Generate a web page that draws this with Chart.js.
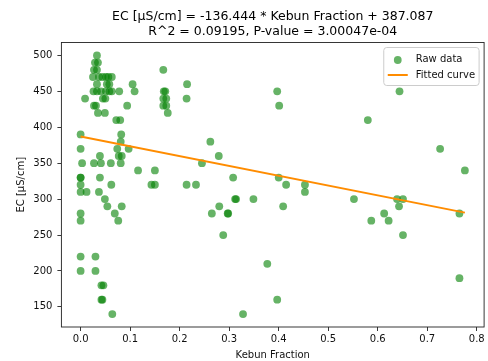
<!DOCTYPE html>
<html>
<head>
<meta charset="utf-8">
<script src="https://cdn.jsdelivr.net/npm/chart.js@4.4.1/dist/chart.umd.min.js"></script>
<style>
  html, body { margin: 0; padding: 0; background: #ffffff; }
  #wrap { width: 488px; height: 361px; }
</style>
</head>
<body>
<div id="wrap"><canvas id="chart" width="488" height="361"></canvas></div>
<script>
// Kebun fraction of each sample and its measured electrical conductivity
const kebunFraction = [
  0.033, 0.029, 0.035, 0.027, 0.033, 0.025, 0.037, 0.044, 0.051, 0.056,
  0.063, 0.033, 0.053, 0.058, 0.105, 0.026, 0.033, 0.041, 0.051, 0.058,
  0.063, 0.078, 0.109, 0.009, 0.045, 0.050, 0.027, 0.031, 0.094, 0.035,
  0.049, 0.072, 0.080, 0.000, 0.082, 0.081, 0.000, 0.074, 0.097, 0.039,
  0.077, 0.083, 0.003, 0.027, 0.041, 0.061, 0.081, 0.116, 0.150, 0.000,
  0.000, 0.039, 0.000, 0.062, 0.143, 0.150, 0.214, 0.233, 0.000, 0.012,
  0.037, 0.049, 0.054, 0.083, 0.000, 0.069, 0.000, 0.076, 0.000, 0.030,
  0.000, 0.030, 0.042, 0.046, 0.042, 0.044, 0.064,
  0.167, 0.168, 0.171, 0.167, 0.173, 0.167, 0.173, 0.176, 0.215, 0.214,
  0.397, 0.401, 0.262, 0.279, 0.245, 0.308, 0.400, 0.415, 0.453, 0.453,
  0.312, 0.314, 0.349, 0.280, 0.409, 0.265, 0.297, 0.298, 0.288, 0.377,
  0.397, 0.328,
  0.644, 0.580, 0.726, 0.776, 0.552, 0.639, 0.651, 0.643, 0.613, 0.765,
  0.587, 0.622, 0.651, 0.765
];
const ecValues = [
  500, 490, 490, 480, 480, 470, 470, 470, 470, 470,
  470, 460, 460, 460, 460, 450, 450, 450, 450, 450,
  450, 450, 450, 440, 440, 440, 430, 430, 430, 420,
  420, 410, 410, 390, 390, 380, 370, 370, 370, 360,
  360, 360, 350, 350, 350, 350, 350, 340, 340, 330,
  330, 330, 320, 320, 320, 320, 320, 320, 310, 310,
  310, 300, 290, 290, 280, 280, 270, 270, 220, 220,
  200, 200, 180, 180, 160, 160, 140,
  480, 450, 450, 440, 440, 430, 430, 420, 460, 440,
  450, 430, 380, 360, 350, 330, 330, 320, 320, 310,
  300, 300, 300, 290, 290, 280, 280, 280, 250, 210,
  160, 140,
  450, 410, 370, 340, 300, 300, 300, 290, 280, 280,
  270, 270, 250, 190
];

// Least-squares fit reported in the title
const fitSlope = -136.444;
const fitIntercept = 387.087;
const rSquaredText = '0.09195';
const pValueText = '3.00047e-04';

const xTickValues = [0.0, 0.1, 0.2, 0.3, 0.4, 0.5, 0.6, 0.7, 0.8];
const yTickValues = [150, 200, 250, 300, 350, 400, 450, 500];

const xLabel = 'Kebun Fraction';
const yLabel = 'EC [µS/cm]';
const seriesLabels = ['Raw data', 'Fitted curve'];

// ---- derived values ----
const scatterPoints = kebunFraction.map((x, i) => ({ x: x, y: ecValues[i] }));
const xMinData = Math.min(...kebunFraction), xMaxData = Math.max(...kebunFraction);
const yMinData = Math.min(...ecValues), yMaxData = Math.max(...ecValues);
const fitPoints = [xMinData, xMaxData].map(x => ({ x: x, y: fitIntercept + fitSlope * x }));

// 5% autoscale margins on both axes
const xPad = (xMaxData - xMinData) * 0.05;
const yPad = (yMaxData - yMinData) * 0.05;

const FONT = 'DejaVu Sans';
const TEXT = '#111111';
const SCATTER_COLOR = 'rgba(0,128,0,0.6)';
const FIT_COLOR = '#ff8c00';

const titleLines = [
  yLabel + ' = ' + fitSlope.toFixed(3) + ' * ' + xLabel + ' + ' + fitIntercept.toFixed(3),
  'R^2 = ' + rSquaredText + ', P-value = ' + pValueText
];

// Axes frame drawn on all four sides
const framePlugin = {
  id: 'frame',
  afterDatasetsDraw(chart) {
    const { ctx, chartArea: a } = chart;
    ctx.save();
    ctx.strokeStyle = '#222222';
    ctx.lineWidth = 0.9;
    ctx.strokeRect(a.left, a.top, a.right - a.left, a.bottom - a.top);
    ctx.restore();
  }
};

// Boxed legend in the upper right corner of the plot
const legendBoxPlugin = {
  id: 'legendBox',
  afterDraw(chart) {
    const { ctx, chartArea: a } = chart;
    const fs = 10;
    ctx.save();
    ctx.font = fs + 'px "' + FONT + '"';
    const textW = Math.max(...seriesLabels.map(t => ctx.measureText(t).width));
    const pad = 0.4 * fs, handleLen = 2 * fs, handleGap = 0.8 * fs, rowH = 1.6 * fs;
    const boxW = pad + handleLen + handleGap + textW + pad;
    const boxH = pad * 2 + rowH * 2 - 0.2 * fs;
    const right = a.right - 5, top = a.top + 5;
    const left = right - boxW;
    // frame
    const r = 3;
    ctx.beginPath();
    ctx.moveTo(left + r, top);
    ctx.lineTo(right - r, top);
    ctx.arcTo(right, top, right, top + r, r);
    ctx.lineTo(right, top + boxH - r);
    ctx.arcTo(right, top + boxH, right - r, top + boxH, r);
    ctx.lineTo(left + r, top + boxH);
    ctx.arcTo(left, top + boxH, left, top + boxH - r, r);
    ctx.lineTo(left, top + r);
    ctx.arcTo(left, top, left + r, top, r);
    ctx.closePath();
    ctx.fillStyle = 'rgba(255,255,255,0.8)';
    ctx.fill();
    ctx.strokeStyle = '#cccccc';
    ctx.lineWidth = 1;
    ctx.stroke();
    // rows
    const hx = left + pad, tx = hx + handleLen + handleGap;
    const y1 = top + pad + rowH / 2 - 0.5, y2 = y1 + rowH;
    ctx.fillStyle = SCATTER_COLOR;
    ctx.beginPath();
    ctx.arc(hx + handleLen / 2, y1 + 1, 3.9, 0, Math.PI * 2);
    ctx.fill();
    ctx.strokeStyle = FIT_COLOR;
    ctx.lineWidth = 2;
    ctx.beginPath();
    ctx.moveTo(hx, y2);
    ctx.lineTo(hx + handleLen, y2);
    ctx.stroke();
    ctx.fillStyle = TEXT;
    ctx.textAlign = 'left';
    ctx.textBaseline = 'middle';
    ctx.fillText(seriesLabels[0], tx, y1);
    ctx.fillText(seriesLabels[1], tx, y2);
    ctx.restore();
  }
};

const tickGrid = {
  display: true,
  drawOnChartArea: false,
  drawTicks: true,
  tickLength: 4,
  color: '#222222',
  lineWidth: 0.9
};

new Chart(document.getElementById('chart'), {
  data: {
    datasets: [
      {
        type: 'scatter',
        label: seriesLabels[0],
        data: scatterPoints,
        backgroundColor: SCATTER_COLOR,
        borderWidth: 0,
        pointRadius: 3.9,
        pointHoverRadius: 3.9,
        order: 2
      },
      {
        type: 'line',
        label: seriesLabels[1],
        data: fitPoints,
        borderColor: FIT_COLOR,
        borderWidth: 2,
        pointRadius: 0,
        fill: false,
        order: 1
      }
    ]
  },
  options: {
    responsive: false,
    animation: false,
    devicePixelRatio: 1,
    layout: { padding: { left: 0, right: 2.5, top: 0, bottom: 0 } },
    plugins: {
      legend: { display: false },
      tooltip: { enabled: false },
      title: {
        display: true,
        fullSize: false,
        text: titleLines,
        color: '#000000',
        font: { family: FONT, size: 12.5, weight: 'normal', lineHeight: 1.2 },
        padding: { top: 9, bottom: 3.5 }
      }
    },
    scales: {
      x: {
        type: 'linear',
        position: 'bottom',
        min: xMinData - xPad,
        max: xMaxData + xPad,
        afterBuildTicks(scale) { scale.ticks = xTickValues.map(v => ({ value: v })); },
        afterFit(scale) { scale.height = 34; },
        grid: tickGrid,
        border: { display: false },
        ticks: {
          color: TEXT,
          font: { family: FONT, size: 10 },
          padding: 2,
          maxRotation: 0,
          autoSkip: false,
          callback: v => v.toFixed(1)
        },
        title: {
          display: true,
          text: xLabel,
          color: TEXT,
          font: { family: FONT, size: 10, lineHeight: 1.2 },
          padding: { top: 1, bottom: 0 }
        }
      },
      y: {
        type: 'linear',
        position: 'left',
        min: yMinData - yPad,
        max: yMaxData + yPad,
        afterBuildTicks(scale) { scale.ticks = yTickValues.map(v => ({ value: v })); },
        afterFit(scale) { scale.width = 61.4; },
        grid: tickGrid,
        border: { display: false },
        ticks: {
          color: TEXT,
          font: { family: FONT, size: 10 },
          padding: 5,
          autoSkip: false,
          callback: v => String(v)
        },
        title: {
          display: true,
          text: yLabel,
          color: TEXT,
          font: { family: FONT, size: 10, lineHeight: 1.2 },
          padding: { top: 15.5, bottom: 0 }
        }
      }
    }
  },
  plugins: [framePlugin, legendBoxPlugin]
});
</script>
</body>
</html>
